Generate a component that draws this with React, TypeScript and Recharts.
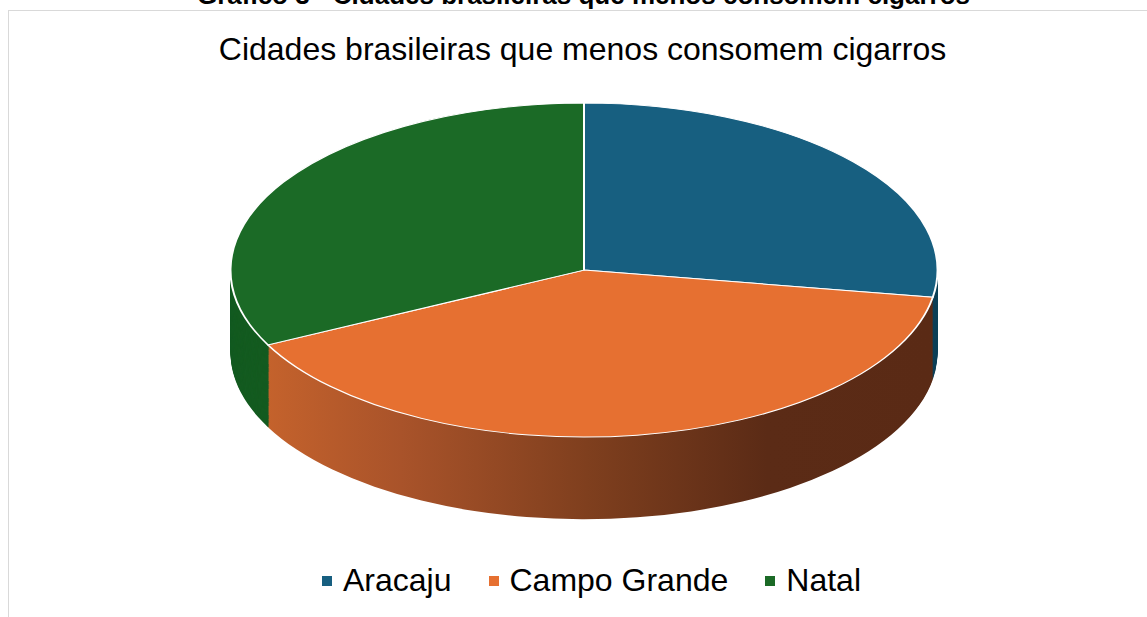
import { PieChart, Pie, Cell } from "recharts";

// ─── Data ──────────────────────────────────────────────────────────────────────

const cities = ["Aracaju", "Campo Grande", "Natal"];
const shares = [27.6, 40.0, 32.4];

const topColors = ["#175f80", "#e67031", "#1b6a26"];
const sideColors = ["#0f4058", "url(#sideOrange)", "#145b20"];

// 3D look: the pie is squashed with scaleY, and the wall is many stacked copies
const TILT = 0.4724;
const RADIUS = 353.5;
const DEPTH = 174;
const STEP = 2;

const data = cities.map((name, i) => ({ name, value: shares[i] }));

const layerOffsets: number[] = [];
for (let d = DEPTH; d > 0; d -= STEP) layerOffsets.push(d);

const font = '"Liberation Sans", Arial, sans-serif';

// ─── Component ─────────────────────────────────────────────────────────────────

export default function App() {
  const cx = 360;
  const cy = 360;

  return (
    <div
      style={{
        position: "absolute",
        left: 0,
        top: 0,
        width: 1147,
        height: 617,
        overflow: "hidden",
        background: "#fff",
        fontFamily: font,
        color: "#000",
      }}
    >
      {/* gradient for the orange wall */}
      <svg width={0} height={0} style={{ position: "absolute" }}>
        <defs>
          <linearGradient id="sideOrange" x1="0" y1="0" x2="1" y2="0">
            <stop offset="0" stopColor="#c4622c" />
            <stop offset="0.2" stopColor="#a9532a" />
            <stop offset="0.48" stopColor="#7f3f1e" />
            <stop offset="0.75" stopColor="#5b2b16" />
            <stop offset="1" stopColor="#5a2a15" />
          </linearGradient>
        </defs>
      </svg>

      {/* chart frame */}
      <div
        style={{
          position: "absolute",
          left: 8,
          top: 10,
          width: 1200,
          height: 700,
          border: "1px solid #d9d9d9",
        }}
      />

      {/* document caption, cut off at the top as in the source */}
      <div
        style={{
          position: "absolute",
          left: 0,
          top: -18,
          width: 1167,
          textAlign: "center",
          fontSize: 26,
          lineHeight: "26px",
          fontWeight: "bold",
          whiteSpace: "nowrap",
        }}
      >
        Gráfico 3 - Cidades brasileiras que menos consomem cigarros
      </div>

      {/* chart title */}
      <div
        style={{
          position: "absolute",
          left: 0,
          top: 33,
          width: 1165,
          textAlign: "center",
          fontSize: 32,
          lineHeight: "32px",
          whiteSpace: "nowrap",
        }}
      >
        Cidades brasileiras que menos consomem cigarros
      </div>

      {/* pie, squashed to look tilted */}
      <div
        style={{
          position: "absolute",
          left: 223.5,
          top: 99.9,
          transform: `scaleY(${TILT})`,
          transformOrigin: "0 0",
        }}
      >
        <PieChart
          width={720}
          height={900}
          margin={{ top: 0, right: 0, bottom: 0, left: 0 }}
        >
          {layerOffsets.map((d) => (
            <Pie
              key={`wall-${d}`}
              data={data}
              dataKey="value"
              cx={cx}
              cy={cy + d}
              innerRadius={0}
              outerRadius={RADIUS}
              startAngle={90}
              endAngle={-270}
              stroke="none"
              isAnimationActive={false}
            >
              {data.map((_, i) => (
                <Cell key={i} fill={sideColors[i]} />
              ))}
            </Pie>
          ))}
          <Pie
            data={data}
            dataKey="value"
            cx={cx}
            cy={cy}
            innerRadius={0}
            outerRadius={RADIUS}
            startAngle={90}
            endAngle={-270}
            stroke="#ffffff"
            strokeWidth={2}
            isAnimationActive={false}
          >
            {data.map((_, i) => (
              <Cell key={i} fill={topColors[i]} />
            ))}
          </Pie>
        </PieChart>
      </div>

      {/* legend */}
      <div
        style={{
          position: "absolute",
          left: 322,
          top: 563.6,
          display: "flex",
          alignItems: "center",
          fontSize: 32,
          lineHeight: "32px",
          whiteSpace: "nowrap",
        }}
      >
        {cities.map((name, i) => (
          <div
            key={name}
            style={{
              display: "flex",
              alignItems: "center",
              marginRight: i < cities.length - 1 ? 37 : 0,
            }}
          >
            <span
              style={{
                width: 10,
                height: 10,
                marginTop: 3,
                marginRight: 11,
                background: topColors[i],
                display: "inline-block",
              }}
            />
            <span>{name}</span>
          </div>
        ))}
      </div>
    </div>
  );
}
